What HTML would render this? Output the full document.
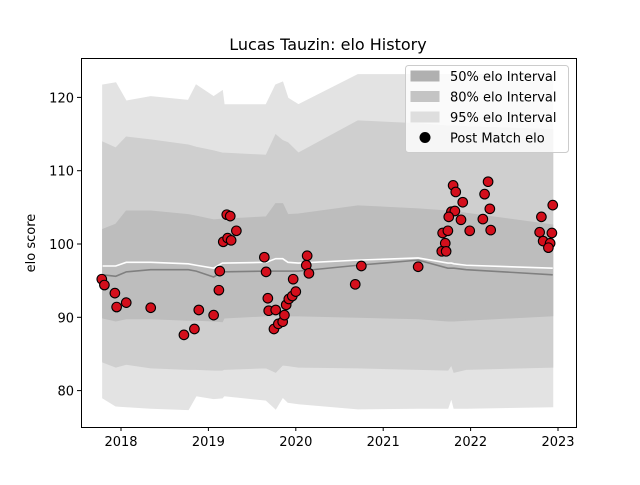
<!DOCTYPE html>
<html><head><meta charset="utf-8"><style>
body{margin:0;background:#fff;}
svg text{font-family:"DejaVu Sans","Liberation Sans",sans-serif;fill:#000;}
</style></head><body>
<svg id="chart" width="640" height="480">
<rect width="640" height="480" fill="#fff"/>
<text x="328" y="50" font-size="16" text-anchor="middle">Lucas Tauzin: elo History</text>
<g id="plot"></g>
</svg>
<script>
const bandYears=[2017.79,2017.94,2018.06,2018.34,2018.77,2018.86,2019.06,2019.16,2019.18,2019.66,2019.77,2019.85,2019.91,2020.03,2020.71,2021.40,2021.74,2021.78,2021.81,2021.95,2022.94];
const up95=[121.7,122.0,119.5,120.1,119.6,121.7,120.1,120.9,119.0,119.0,121.7,122.1,119.9,119.0,123.1,123.1,123.1,123.1,123.1,123.1,123.1];
const up80=[113.9,113.1,114.6,114.2,113.5,113.2,112.7,112.4,112.4,112.1,114.9,114.1,113.8,112.4,116.8,116.4,116.1,116.1,116.1,116.0,115.6];
const up50=[102.0,102.7,104.5,104.5,104.0,103.8,103.3,103.4,103.4,103.7,105.5,105.5,104.0,104.1,105.2,104.8,104.5,104.5,104.5,104.2,102.6];
const lo50=[89.9,89.5,89.8,89.8,89.6,89.6,89.5,89.4,89.9,90.2,90.2,90.2,90.2,90.2,90.0,89.8,89.5,89.5,89.5,89.6,90.2];
const lo80=[83.9,83.2,83.6,83.1,82.9,82.9,82.8,82.8,82.9,83.1,82.5,83.5,83.4,83.2,83.1,82.9,82.8,83.5,82.5,82.9,83.2];
const lo95=[79.0,77.9,77.8,77.6,77.4,79.3,78.9,79.0,79.3,78.7,77.5,79.1,78.4,78.2,77.5,77.6,77.6,79.0,77.6,77.6,77.8];
const meanLine=[97.0,97.0,97.5,97.5,97.3,97.1,96.7,97.4,97.4,97.5,98.0,98.0,97.5,97.4,97.8,98.1,97.4,97.4,97.3,97.1,96.7];
const medianLine=[95.8,95.6,96.2,96.5,96.5,96.3,95.5,96.2,96.2,96.3,96.3,96.3,96.3,96.3,97.1,97.8,96.7,96.7,96.7,96.5,95.8];
const matchYears=[2017.78,2017.81,2017.93,2017.95,2018.06,2018.34,2018.72,2018.84,2018.89,2019.06,2019.12,2019.13,2019.17,2019.21,2019.25,2019.22,2019.26,2019.32,2019.64,2019.66,2019.68,2019.69,2019.77,2019.75,2019.80,2019.85,2019.87,2019.89,2019.92,2019.96,2020.00,2019.97,2020.13,2020.12,2020.15,2020.68,2020.75,2021.40,2021.80,2021.83,2021.91,2021.78,2021.82,2021.75,2021.89,2021.99,2021.68,2021.74,2021.71,2021.67,2021.72,2022.20,2022.16,2022.22,2022.14,2022.23,2022.94,2022.81,2022.79,2022.93,2022.83,2022.91,2022.89];
const matchElo=[95.2,94.4,93.3,91.4,92.0,91.3,87.6,88.4,91.0,90.3,93.7,96.3,100.3,104.0,103.8,100.8,100.5,101.8,98.2,96.2,92.6,90.9,91.0,88.4,89.1,89.4,90.3,91.7,92.5,92.9,93.5,95.2,98.4,97.1,96.0,94.5,97.0,96.9,108.0,107.1,105.7,104.4,104.5,103.7,103.3,101.8,101.5,101.8,100.1,99.0,99.0,108.5,106.8,104.8,103.4,101.9,105.3,103.7,101.6,101.5,100.4,100.1,99.5];
const xTicks=[2018,2019,2020,2021,2022,2023];
const yTicks=[80,90,100,110,120];

const NS="http://www.w3.org/2000/svg";
const L=81,R=576,T=58,B=427;
const xS=v=>121+(v-2018)*87.4;
const yS=v=>244-(v-100)*7.33;
const g=document.getElementById('plot');
function mk(tag,attrs,parent){const e=document.createElementNS(NS,tag);for(const k in attrs)e.setAttribute(k,attrs[k]);(parent||g).appendChild(e);return e;}
function band(up,lo,fill,name){
  let d='M'+bandYears.map((t,i)=>xS(t)+','+yS(up[i])).join('L');
  for(let i=bandYears.length-1;i>=0;i--)d+='L'+xS(bandYears[i])+','+yS(lo[i]);
  const p=mk('path',{d:d+'Z',fill:fill,stroke:fill});
  
  
}
band(up95,lo95,'#e3e3e3','band-95');
band(up80,lo80,'#cfcfcf','band-80');
band(up50,lo50,'#bdbdbd','band-50');
function line(vals,color,name){
  const p=mk('polyline',{points:bandYears.map((t,i)=>xS(t)+','+yS(vals[i])).join(' '),fill:'none',stroke:color,'stroke-width':1.6});
  
  
}
line(medianLine,'#808080','median-elo-line');
line(meanLine,'#ffffff','mean-elo-line');
matchYears.forEach((t,i)=>{
  const c=mk('circle',{cx:xS(t),cy:yS(matchElo[i]),r:4.8,fill:'#d40f1c',stroke:'#000','stroke-width':1.1});
  
  
});
const frame=mk('rect',{x:L+0.5,y:T+0.5,width:R-L,height:B-T,fill:'none',stroke:'#000','stroke-width':1});


xTicks.forEach(v=>{
  mk('line',{x1:xS(v),x2:xS(v),y1:B,y2:B+4,stroke:'#000'});
  const t=mk('text',{x:xS(v),y:B+19,'font-size':13,'text-anchor':'middle'});
  t.textContent=v;
  
  
});
yTicks.forEach(v=>{
  mk('line',{x1:L-4,x2:L,y1:yS(v),y2:yS(v),stroke:'#000'});
  const t=mk('text',{x:L-7,y:yS(v)+5,'font-size':13,'text-anchor':'end'});
  t.textContent=v;
  
  
});
const yl=mk('text',{x:35,y:243,'font-size':13,'text-anchor':'middle',transform:'rotate(-90 35 243)'});
yl.textContent='elo score';


// legend
const lg=mk('g',{});


mk('rect',{x:405.5,y:65.5,width:163,height:87,rx:3,fill:'#fff','fill-opacity':0.8,stroke:'#ccc'},lg);
const items=[['50% elo Interval','#b0b0b0'],['80% elo Interval','#c4c4c4'],['95% elo Interval','#dedede'],['Post Match elo',null]];
items.forEach((it,i)=>{
  const y=76+i*20.5;
  if(it[1]) mk('rect',{x:411,y:y-5,width:28,height:10,fill:it[1],stroke:it[1]},lg);
  else mk('circle',{cx:425,cy:y,r:5.5,fill:'#000'},lg);
  const t=mk('text',{x:450,y:y+5,'font-size':13},lg);
  t.textContent=it[0];
  
  
});
</script>
</body></html>
